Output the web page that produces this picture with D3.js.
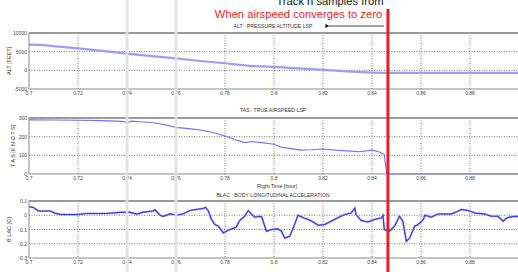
<!DOCTYPE html>
<html>
<head>
<meta charset="utf-8">
<script src="https://cdn.jsdelivr.net/npm/d3@7"></script>
<style>
body { margin: 0; background: #fff; }
svg { display: block; font-family: "Liberation Sans", Arial, sans-serif; }
</style>
</head>
<body>
<svg width="518" height="272"></svg>
<script>
// flight time axis
var xTicks = [0.7, 0.72, 0.74, 0.76, 0.78, 0.8, 0.82, 0.84, 0.86, 0.88, 0.9];
var xTickLabels = ["0.7", "0.72", "0.74", "0.76", "0.78", "0.8", "0.82", "0.84", "0.86", "0.88", ""];

// ALT : pressure altitude [feet]
var altTime = [0.700, 0.705, 0.710, 0.720, 0.730, 0.740, 0.750, 0.760, 0.770, 0.780, 0.790, 0.800, 0.810, 0.820, 0.830, 0.840, 0.845, 0.860, 0.880, 0.900];
var altValue = [6900, 6800, 6500, 5900, 5200, 4500, 3800, 3200, 2500, 1900, 1200, 900, 500, 100, -300, -600, -700, -700, -700, -700];
var altTicks = [10000, 5000, 0, -5000];

// TAS : true airspeed [knots]
var tasTime = [0.700, 0.710, 0.720, 0.730, 0.738, 0.740, 0.742, 0.745, 0.750, 0.755, 0.760, 0.765, 0.770, 0.775, 0.780, 0.784, 0.788, 0.791, 0.795, 0.800, 0.803, 0.807, 0.811, 0.815, 0.820, 0.825, 0.830, 0.835, 0.840, 0.843, 0.845, 0.846, 0.870, 0.900];
var tasValue = [290, 289, 288, 286, 282, 276, 283, 280, 276, 265, 250, 243, 236, 222, 204, 185, 168, 174, 168, 159, 143, 136, 128, 130, 134, 128, 124, 119, 128, 118, 105, 0, 0, 0];
var tasTicks = [300, 200, 100, 0];

// BLAC : body longitudinal acceleration [g]
var blacTime = [0.700, 0.7018, 0.7038, 0.7086, 0.7106, 0.713, 0.7195, 0.7235, 0.7317, 0.737, 0.741, 0.744, 0.7466, 0.7507, 0.7514, 0.7535, 0.7548, 0.7576, 0.7603, 0.763, 0.7657, 0.768, 0.7712, 0.772, 0.7732, 0.7745, 0.7759, 0.7773, 0.7793, 0.782, 0.7845, 0.786, 0.788, 0.7895, 0.791, 0.7922, 0.7943,
  0.795, 0.7969, 0.799, 0.8016, 0.803, 0.8044, 0.8064, 0.8078, 0.8098, 0.812, 0.814, 0.816, 0.818, 0.8207, 0.8227, 0.826, 0.8288, 0.8315, 0.833, 0.8335, 0.8356, 0.8383, 0.841, 0.8438, 0.8445, 0.845, 0.8472, 0.8492, 0.8512, 0.8526, 0.854, 0.8554, 0.8574, 0.8588, 0.861, 0.8615, 0.863, 0.864, 0.867, 0.8697, 0.8723, 0.875, 0.8764, 0.8792, 0.882, 0.886, 0.8887, 0.8914, 0.8935, 0.895, 0.8983, 0.900];
var blacValue = [0.06, 0.055, 0.03, 0.03, 0.015, 0.005, 0.005, 0.012, 0.012, 0.02, 0.022, 0.008, 0.022, 0.03, 0.038, 0.0, -0.008, 0.01, 0.0, 0.01, 0.033, 0.04, 0.047, 0.056, 0.03, -0.03, -0.065, -0.077, -0.124, -0.1, -0.084, -0.037, -0.007, 0.033, 0.005, -0.014, -0.007,
  -0.012, -0.112, -0.1, -0.096, -0.112, -0.16, -0.148, -0.09, 0.0, -0.018, -0.03, -0.047, -0.07, -0.065, -0.047, -0.018, 0.005, 0.016, 0.051, 0.005, -0.037, -0.047, -0.03, -0.018, 0.0, -0.1, -0.112, -0.077, -0.007, -0.042, -0.183, -0.16, -0.077, -0.065, -0.03, 0.0, -0.007, -0.014, 0.009, 0.009, 0.009, 0.028, 0.04, 0.033, 0.016, 0.009, -0.007, -0.007, -0.042, -0.018, -0.007, -0.012];
var blacTicks = [0.1, 0, -0.1, -0.2, -0.3];
var blacTickLabels = ["0.1", "0", "-0.1", "-0.2", "-0.3"];

var svg = d3.select("svg");
var x = d3.scaleLinear().domain([0.7, 0.9]).range([29, 519]);

var panels = [
  {title: "ALT : PRESSURE ALTITUDE LSP", ylabel: "ALT [FEET]", top: 33, bottom: 89, domain: [-5000, 10000],
   ticks: altTicks, tickLabels: altTicks.map(String), t: altTime, v: altValue, color: "#9a9cff", width: 2.2, titleY: 28},
  {title: "TAS : TRUE AIRSPEED LSP", ylabel: "T A S  [K N O T S]", top: 118, bottom: 174, domain: [0, 300],
   ticks: tasTicks, tickLabels: tasTicks.map(String), t: tasTime, v: tasValue, color: "#6f6fff", width: 1.1, titleY: 112},
  {title: "BLAC : BODY LONGITUDINAL ACCELERATION", ylabel: "B LAC  [G]", top: 201, bottom: 258, domain: [-0.3, 0.1],
   ticks: blacTicks, tickLabels: blacTickLabels, t: blacTime, v: blacValue, color: "#3434f4", width: 1.1, titleY: 197}
];

panels.forEach(function(p, k) {
  var y = d3.scaleLinear().domain(p.domain).range([p.bottom, p.top]);
  var g = svg.append("g");

  // dotted grid
  g.selectAll("line.vg").data(xTicks.slice(1, -1)).enter().append("line")
    .attr("x1", function(d) { return x(d); }).attr("x2", function(d) { return x(d); })
    .attr("y1", p.top).attr("y2", p.bottom)
    .attr("stroke", "#555").attr("stroke-width", 0.8).attr("stroke-dasharray", "1,1.5");
  g.selectAll("line.hg").data(p.ticks.slice(1, -1)).enter().append("line")
    .attr("x1", x(0.7)).attr("x2", x(0.9))
    .attr("y1", function(d) { return y(d); }).attr("y2", function(d) { return y(d); })
    .attr("stroke", "#555").attr("stroke-width", 0.8).attr("stroke-dasharray", "1,1.5");

  // data line
  var pts = p.t.map(function(t, i) { return [t, p.v[i]]; });
  var line = d3.line().x(function(d) { return x(d[0]); }).y(function(d) { return y(d[1]); });
  if (k == 2) {
    g.append("path").datum(pts).attr("d", line)
      .attr("fill", "none").attr("stroke", "#a4a4ff").attr("stroke-width", 1.9);
  }
  g.append("path").datum(pts).attr("d", line)
    .attr("fill", "none").attr("stroke", p.color).attr("stroke-width", p.width);

  // frame
  g.append("rect").attr("x", x(0.7)).attr("y", p.top).attr("width", x(0.9) - x(0.7)).attr("height", p.bottom - p.top)
    .attr("fill", "none").attr("stroke", "#8a8a8a").attr("stroke-width", 1);
  g.append("line").attr("x1", x(0.7)).attr("x2", x(0.9)).attr("y1", p.top).attr("y2", p.top)
    .attr("stroke", "#9a9a9a").attr("stroke-width", 2);

  // tick labels
  g.selectAll("text.xt").data(xTicks).enter().append("text")
    .attr("x", function(d) { return x(d); }).attr("y", p.bottom + 5.5)
    .attr("text-anchor", "middle").attr("font-size", 5).attr("fill", "#444")
    .text(function(d, i) { return xTickLabels[i]; });
  g.selectAll("text.yt").data(p.ticks).enter().append("text")
    .attr("x", x(0.7) - 2).attr("y", function(d) { return y(d) + 2; })
    .attr("text-anchor", "end").attr("font-size", 5).attr("fill", "#444")
    .text(function(d, i) { return p.tickLabels[i]; });

  // titles
  g.append("text").attr("x", 273).attr("y", p.titleY).attr("text-anchor", "middle")
    .attr("font-size", 5.2).attr("fill", "#333").text(p.title);
  g.append("text").attr("transform", "translate(" + (k == 1 ? 15 : 11) + "," + ((p.top + p.bottom) / 2) + ") rotate(-90)")
    .attr("text-anchor", "middle").attr("font-size", 5.5).attr("fill", "#333").text(p.ylabel);
});

svg.append("text").attr("x", 277).attr("y", 188).attr("text-anchor", "middle")
  .attr("font-size", 5.2).attr("fill", "#333").text("Flight Time [hour]");

// highlight bands
svg.selectAll("rect.band").data([0.74, 0.76]).enter().append("rect")
  .attr("x", function(d) { return x(d) - 1.5; }).attr("y", 0).attr("width", 3).attr("height", 272)
  .attr("fill", "#e2e2e2").attr("opacity", 0.9);

// annotation
svg.append("line").attr("x1", x(0.8465)).attr("x2", x(0.8465)).attr("y1", 9).attr("y2", 272)
  .attr("stroke", "#ee1c24").attr("stroke-width", 3);
svg.append("text").attr("x", 330).attr("y", 5).attr("text-anchor", "middle")
  .attr("font-size", 11.2).attr("fill", "#111").text("Track n samples from");
svg.append("text").attr("x", 298.5).attr("y", 18).attr("text-anchor", "middle")
  .attr("font-size", 11.2).attr("fill", "#ee1c24").text("When airspeed converges to zero");

svg.append("defs").append("marker").attr("id", "ah").attr("viewBox", "0 0 10 10")
  .attr("refX", 1).attr("refY", 5).attr("markerWidth", 5).attr("markerHeight", 5).attr("orient", "auto")
  .append("path").attr("d", "M10,0 L0,5 L10,10 Z").attr("fill", "#111");
svg.append("line").attr("x1", 384).attr("x2", 329).attr("y1", 26).attr("y2", 26)
  .attr("stroke", "#111").attr("stroke-width", 0.8).attr("marker-end", "url(#ah)");
</script>
</body>
</html>
